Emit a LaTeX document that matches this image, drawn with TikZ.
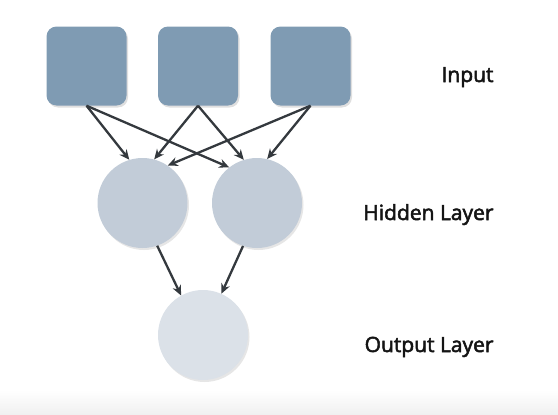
\documentclass[tikz,border=0pt]{standalone}
\usepackage{fontspec}
\setmainfont{Open Sans}[FakeBold=2.5]
\usepackage{tikz}
\usetikzlibrary{arrows.meta,shadows}
\definecolor{inputblue}{RGB}{127,155,179}
\definecolor{hiddengray}{RGB}{194,204,216}
\definecolor{outputgray}{RGB}{219,225,232}
\definecolor{arrowgray}{RGB}{52,57,62}
\definecolor{labelblack}{RGB}{20,20,20}
\tikzset{
	inbox/.style={rectangle, rounded corners=10pt, fill=inputblue, minimum width=80pt, minimum height=79pt,
		drop shadow={shadow xshift=1.5pt, shadow yshift=-2pt, opacity=0.25}},
	hidcirc/.style={circle, fill=hiddengray, minimum size=90pt, inner sep=0pt,
		drop shadow={shadow xshift=1.5pt, shadow yshift=-2pt, opacity=0.2}},
	outcirc/.style={circle, fill=outputgray, minimum size=90pt, inner sep=0pt,
		drop shadow={shadow xshift=1.5pt, shadow yshift=-2pt, opacity=0.2}},
	link/.style={draw=arrowgray, line width=2.3pt, -{Stealth[length=10pt,width=9pt]}},
	layerlabel/.style={anchor=base east, text=labelblack, font=\fontsize{21}{25}\selectfont}
}
\begin{document}
\begin{tikzpicture}[x=1pt,y=-1pt]
			%%%%% START %%%%%
			\useasboundingbox (0,0) rectangle (558,415);
			\shade[top color=white, bottom color=black!6] (0,390) rectangle (558,415);
			
			% input layer
			\node[inbox] (in1) at (86.5,66) {};
			\node[inbox] (in2) at (198,66) {};
			\node[inbox] (in3) at (310.5,66) {};
			
			% hidden layer
			\node[hidcirc] (hid1) at (142.5,203) {};
			\node[hidcirc] (hid2) at (257,203) {};
			
			% output layer
			\node[outcirc] (out) at (203,335) {};
			
			\draw[link] (in1.south) -- (hid1.107);
			\draw[link] (in1.south) -- (hid2.128);
			\draw[link] (in2.south) -- (hid1.75);
			\draw[link] (in2.south) -- (hid2.107);
			\draw[link] (in3.south) -- (hid1.56);
			\draw[link] (in3.south) -- (hid2.77);
			
			\draw[link] (hid1.-71) -- (out.119);
			\draw[link] (hid2.-108) -- (out.66);
			
			\node[layerlabel] (lblin) at (497,82) {Input};
			\node[layerlabel] (lblhid) at (497,220) {Hidden Layer};
			\node[layerlabel] (lblout) at (497,352) {Output Layer};
			%%%%% END %%%%%
\end{tikzpicture}
\end{document}
